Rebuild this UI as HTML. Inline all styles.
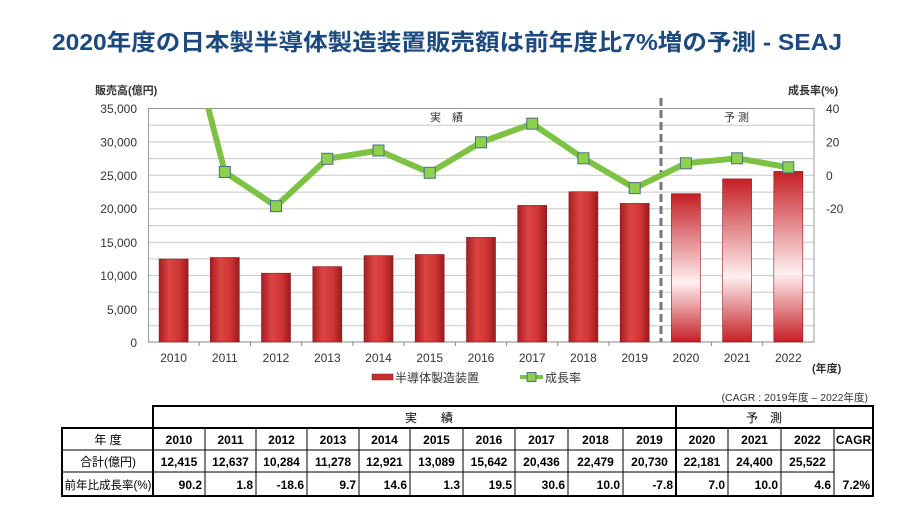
<!DOCTYPE html>
<html><head><meta charset="utf-8"><style>
body{margin:0;background:#fff;}
svg{display:block;font-family:"Liberation Sans","Noto Sans CJK JP",sans-serif;}
</style></head><body>
<svg width="904" height="523" viewBox="0 0 904 523" xmlns="http://www.w3.org/2000/svg">
<defs>
<linearGradient id="rb" x1="0" y1="0" x2="1" y2="0">
<stop offset="0" stop-color="#a51e22"/><stop offset="0.35" stop-color="#dc4444"/><stop offset="0.7" stop-color="#cf3535"/><stop offset="1" stop-color="#9a1a1e"/>
</linearGradient>
<linearGradient id="fb" x1="0" y1="0" x2="0" y2="1">
<stop offset="0" stop-color="#c41e24"/><stop offset="0.6" stop-color="#fff0f0"/><stop offset="1" stop-color="#c41e24"/>
</linearGradient>
<clipPath id="pc"><rect x="148" y="108" width="666" height="234"/></clipPath>
</defs>
<text x="52" y="50" font-size="23" font-weight="bold" fill="#1d4a7e" textLength="790" lengthAdjust="spacingAndGlyphs">2020年度の日本製半導体製造装置販売額は前年度比7%増の予測 - SEAJ</text>

<!-- grid -->
<g stroke="#c8c8c8" stroke-width="1">
<line x1="148" x2="814" y1="108.5" y2="108.5"/><line x1="148" x2="814" y1="125.2" y2="125.2"/><line x1="148" x2="814" y1="141.9" y2="141.9"/><line x1="148" x2="814" y1="158.6" y2="158.6"/><line x1="148" x2="814" y1="175.3" y2="175.3"/><line x1="148" x2="814" y1="192.1" y2="192.1"/><line x1="148" x2="814" y1="208.8" y2="208.8"/><line x1="148" x2="814" y1="225.5" y2="225.5"/><line x1="148" x2="814" y1="242.2" y2="242.2"/><line x1="148" x2="814" y1="258.9" y2="258.9"/><line x1="148" x2="814" y1="275.6" y2="275.6"/><line x1="148" x2="814" y1="292.3" y2="292.3"/><line x1="148" x2="814" y1="309" y2="309"/><line x1="148" x2="814" y1="325.7" y2="325.7"/>
</g>
<rect x="148.5" y="108.5" width="665.5" height="233.5" fill="none" stroke="#999"/>
<line x1="148" x2="814" y1="342" y2="342" stroke="#888"/>
<g stroke="#888"><line x1="199.2" x2="199.2" y1="342" y2="346"/><line x1="250.5" x2="250.5" y1="342" y2="346"/><line x1="301.7" x2="301.7" y1="342" y2="346"/><line x1="352.9" x2="352.9" y1="342" y2="346"/><line x1="404.1" x2="404.1" y1="342" y2="346"/><line x1="455.4" x2="455.4" y1="342" y2="346"/><line x1="506.6" x2="506.6" y1="342" y2="346"/><line x1="557.8" x2="557.8" y1="342" y2="346"/><line x1="609" x2="609" y1="342" y2="346"/><line x1="711.5" x2="711.5" y1="342" y2="346"/><line x1="762.7" x2="762.7" y1="342" y2="346"/></g>

<!-- bars -->
<g fill="url(#rb)" stroke="#8a1a1a" stroke-width="0.6">
<rect x="159.1" y="259" width="29" height="83"/>
<rect x="210.3" y="257.5" width="29" height="84.5"/>
<rect x="261.5" y="273.2" width="29" height="68.8"/>
<rect x="312.8" y="266.6" width="29" height="75.4"/>
<rect x="364" y="255.6" width="29" height="86.4"/>
<rect x="415.2" y="254.5" width="29" height="87.5"/>
<rect x="466.5" y="237.4" width="29" height="104.6"/>
<rect x="517.7" y="205.4" width="29" height="136.6"/>
<rect x="568.9" y="191.7" width="29" height="150.3"/>
<rect x="620.2" y="203.4" width="29" height="138.6"/>
</g>
<g fill="url(#fb)" stroke="#8a1a1a" stroke-width="0.6">
<rect x="671.4" y="193.7" width="29" height="148.3"/>
<rect x="722.6" y="178.9" width="29" height="163.1"/>
<rect x="773.8" y="171.4" width="29" height="170.6"/>
</g>
<line x1="661" x2="661" y1="98" y2="342" stroke="#777" stroke-width="3" stroke-dasharray="8,4"/>
<text x="430" y="121" font-size="11" fill="#333">実　績</text>
<text x="724" y="121" font-size="11" fill="#333">予 測</text>

<!-- line -->
<g clip-path="url(#pc)">
<polyline fill="none" stroke="#7dc242" stroke-width="6" stroke-linejoin="round" points="173.6,-26 224.8,172 276,206.2 327.3,158.8 378.5,150.5 429.7,172.8 481,142.3 532.2,123.7 583.4,158.3 634.7,188.1 685.9,163.3 737.1,158.3 788.3,167.3"/>
</g>
<g fill="#8fd14f" stroke="#4a6e8a" stroke-width="1">
<rect x="219.3" y="166.5" width="11" height="11"/><rect x="270.5" y="200.7" width="11" height="11"/><rect x="321.8" y="153.3" width="11" height="11"/><rect x="373" y="145" width="11" height="11"/><rect x="424.2" y="167.3" width="11" height="11"/><rect x="475.5" y="136.8" width="11" height="11"/><rect x="526.7" y="118.2" width="11" height="11"/><rect x="577.9" y="152.8" width="11" height="11"/><rect x="629.2" y="182.6" width="11" height="11"/><rect x="680.4" y="157.8" width="11" height="11"/><rect x="731.6" y="152.8" width="11" height="11"/><rect x="782.8" y="161.8" width="11" height="11"/>
</g>

<!-- axes labels -->
<g font-size="12" fill="#333" text-anchor="end">
<text x="137" y="113">35,000</text><text x="137" y="146.5">30,000</text><text x="137" y="180">25,000</text><text x="137" y="213">20,000</text><text x="137" y="247">15,000</text><text x="137" y="280">10,000</text><text x="137" y="314">5,000</text><text x="137" y="347">0</text>
</g>
<g font-size="12" fill="#333">
<text x="826" y="113">40</text><text x="826" y="146.5">20</text><text x="826" y="180">0</text><text x="826" y="213">-20</text>
</g>
<text x="95" y="94" font-size="11" font-weight="bold" fill="#333">販売高(億円)</text>
<text x="788" y="94" font-size="11" font-weight="bold" fill="#333">成長率(%)</text>
<g font-size="12" fill="#333" text-anchor="middle">
<text x="173.6" y="362">2010</text><text x="224.8" y="362">2011</text><text x="276" y="362">2012</text><text x="327.3" y="362">2013</text><text x="378.5" y="362">2014</text><text x="429.7" y="362">2015</text><text x="481" y="362">2016</text><text x="532.2" y="362">2017</text><text x="583.4" y="362">2018</text><text x="634.7" y="362">2019</text><text x="685.9" y="362">2020</text><text x="737.1" y="362">2021</text><text x="788.3" y="362">2022</text>
</g>
<text x="812" y="372" font-size="11" font-weight="bold" fill="#333">(年度)</text>

<!-- legend -->
<rect x="372" y="374" width="21" height="6" fill="#c83030" stroke="#8a1a1a" stroke-width="0.5"/>
<text x="395" y="382" font-size="12" fill="#333">半導体製造装置</text>
<line x1="520" x2="543" y1="377" y2="377" stroke="#7dc242" stroke-width="4"/>
<rect x="527" y="372.5" width="9" height="9" fill="#8fd14f" stroke="#4a6e8a"/>
<text x="545" y="382" font-size="12" fill="#333">成長率</text>

<text x="868" y="401" font-size="10.5" fill="#333" text-anchor="end">(CAGR : 2019年度 – 2022年度)</text>

<!-- table -->
<g stroke="#000" fill="none">
<rect x="153" y="406" width="720" height="90" stroke-width="2"/>
<rect x="62" y="428" width="811" height="68" stroke-width="2"/>
<line x1="676" x2="676" y1="406" y2="496" stroke-width="2"/>
<line x1="62" x2="873" y1="450" y2="450" stroke-width="1"/>
<line x1="62" x2="834" y1="472" y2="472" stroke-width="1"/>
<line x1="834" x2="873" y1="450" y2="450" stroke-width="0"/>
<g stroke-width="1">
<line x1="205" x2="205" y1="428" y2="496"/><line x1="256" x2="256" y1="428" y2="496"/><line x1="307" x2="307" y1="428" y2="496"/><line x1="359" x2="359" y1="428" y2="496"/><line x1="410" x2="410" y1="428" y2="496"/><line x1="463" x2="463" y1="428" y2="496"/><line x1="515" x2="515" y1="428" y2="496"/><line x1="568" x2="568" y1="428" y2="496"/><line x1="623" x2="623" y1="428" y2="496"/><line x1="728" x2="728" y1="428" y2="496"/><line x1="781" x2="781" y1="428" y2="496"/><line x1="834" x2="834" y1="428" y2="496"/>
</g>
<line x1="153" x2="153" y1="428" y2="496" stroke-width="2"/>
</g>
<rect x="835" y="451" width="37" height="20" fill="#fff"/>
<g font-size="12" fill="#000">
<text x="405" y="422">実　　績</text>
<text x="746" y="422">予　測</text>
<text x="108" y="444" text-anchor="middle">年 度</text>
<text x="108" y="466" text-anchor="middle">合計(億円)</text>
<text x="108" y="489" text-anchor="middle" font-size="11.5">前年比成長率(%)</text>
</g>
<g font-size="12" font-weight="bold" fill="#000" text-anchor="middle">
<text x="179" y="444">2010</text><text x="230.5" y="444">2011</text><text x="281.5" y="444">2012</text><text x="333" y="444">2013</text><text x="384.5" y="444">2014</text><text x="436.5" y="444">2015</text><text x="489" y="444">2016</text><text x="541.5" y="444">2017</text><text x="595.5" y="444">2018</text><text x="649.5" y="444">2019</text><text x="702" y="444">2020</text><text x="754.5" y="444">2021</text><text x="807.5" y="444">2022</text><text x="853.5" y="444">CAGR</text>
<text x="179" y="466">12,415</text><text x="230.5" y="466">12,637</text><text x="281.5" y="466">10,284</text><text x="333" y="466">11,278</text><text x="384.5" y="466">12,921</text><text x="436.5" y="466">13,089</text><text x="489" y="466">15,642</text><text x="541.5" y="466">20,436</text><text x="595.5" y="466">22,479</text><text x="649.5" y="466">20,730</text><text x="702" y="466">22,181</text><text x="754.5" y="466">24,400</text><text x="807.5" y="466">25,522</text>
</g>
<g font-size="12" font-weight="bold" fill="#000" text-anchor="end">
<text x="202" y="489">90.2</text><text x="253" y="489">1.8</text><text x="304" y="489">-18.6</text><text x="356" y="489">9.7</text><text x="407" y="489">14.6</text><text x="460" y="489">1.3</text><text x="512" y="489">19.5</text><text x="565" y="489">30.6</text><text x="620" y="489">10.0</text><text x="673" y="489">-7.8</text><text x="725" y="489">7.0</text><text x="778" y="489">10.0</text><text x="831" y="489">4.6</text><text x="870" y="489">7.2%</text>
</g>
</svg>
</body></html>
